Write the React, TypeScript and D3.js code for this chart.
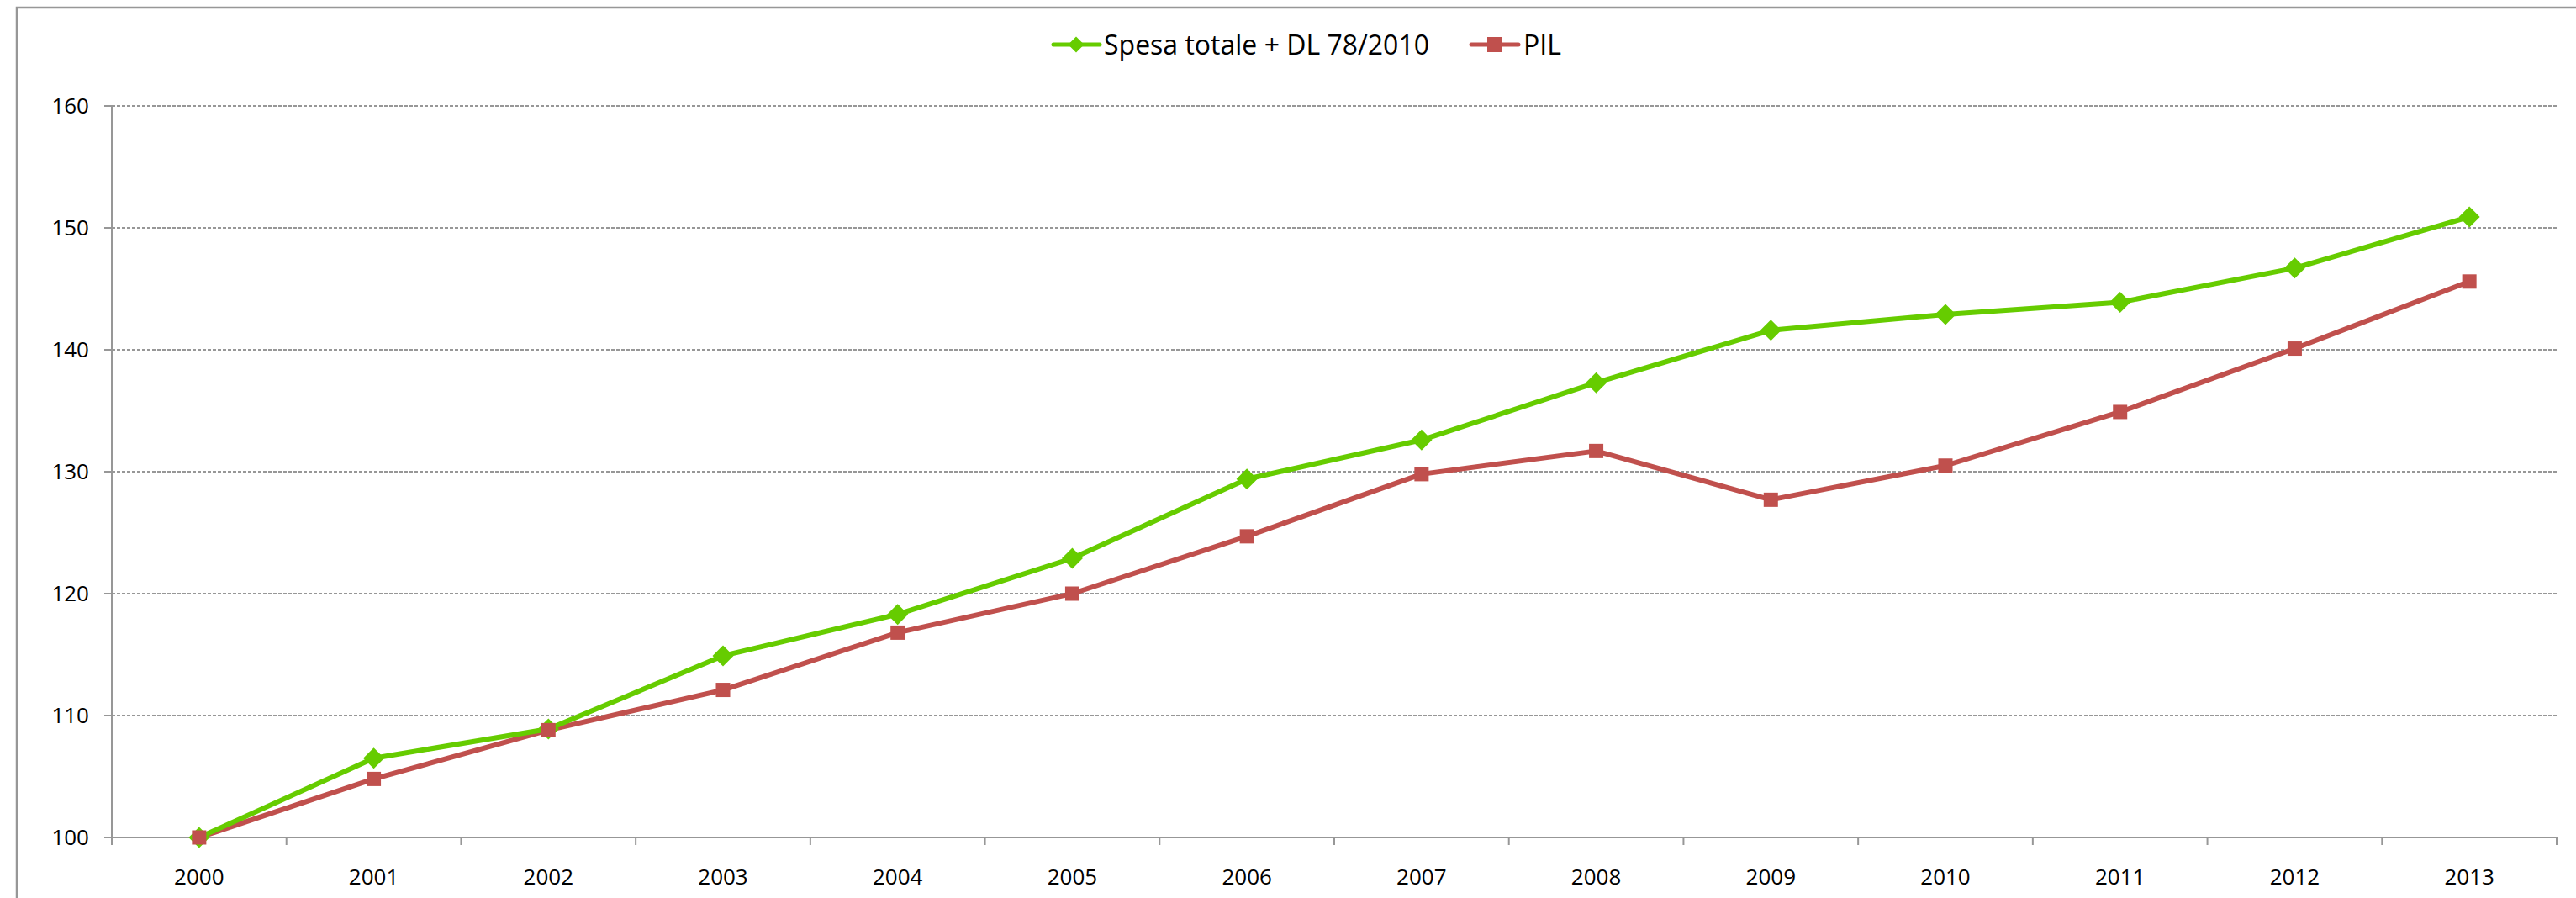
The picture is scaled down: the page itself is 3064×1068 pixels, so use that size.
import React from 'react';
import * as d3 from 'd3';

const years = ['2000', '2001', '2002', '2003', '2004', '2005', '2006', '2007', '2008', '2009', '2010', '2011', '2012', '2013'];
const spesa = [100, 106.5, 108.9, 114.9, 118.3, 122.9, 129.4, 132.6, 137.3, 141.6, 142.9, 143.9, 146.7, 150.9];
const pil = [100, 104.8, 108.8, 112.1, 116.8, 120.0, 124.7, 129.8, 131.7, 127.7, 130.5, 134.9, 140.1, 145.6];
const yTicks = [100, 110, 120, 130, 140, 150, 160];
const seriesNames = ['Spesa totale + DL 78/2010', 'PIL'];

const green = '#66CC00';
const red = '#C0504D';
const axisColor = '#979797';
const font = '"Open Sans", Calibri, sans-serif';

function Diamond({cx, cy, size, fill}: {cx: number, cy: number, size: number, fill: string}) {
    const h = size / 2;
    return <path d={`M${cx},${cy - h}L${cx + h},${cy}L${cx},${cy + h}L${cx - h},${cy}Z`} fill={fill} />;
}

function Square({cx, cy, size, fill}: {cx: number, cy: number, size: number, fill: string}) {
    return <rect x={cx - size / 2} y={cy - size / 2} width={size} height={size} fill={fill} />;
}

export default function App() {
    const width = 3064, height = 1068;
    const left = 133, right = 3041, top = 126, bottom = 996;

    const x = d3.scaleBand().domain(years).range([left, right]);
    const cx = (v: string) => (x(v) as number) + x.bandwidth() / 2;
    const y = d3.scaleLinear().domain([100, 160]).range([bottom, top]);

    const line = d3.line<number>()
        .x((d, i) => cx(years[i]))
        .y((d) => y(d));

    const boundaries = d3.range(years.length + 1).map((i) => left + i * x.step());

    return (
        <div style={{position: 'absolute', left: 0, top: 0}}>
            <svg width={width} height={height} xmlns="http://www.w3.org/2000/svg" style={{display: 'block'}}>
                <rect x={0} y={0} width={width} height={height} fill="#fff" />
                {/* chart frame, cropped on right and bottom */}
                <path d={`M20,${height}L20,9L${width},9`} fill="none" stroke={axisColor} strokeWidth={2.5} />

                {/* gridlines */}
                {yTicks.filter((t) => t !== 100).map((t) =>
                    <line key={`g${t}`} x1={left} x2={right} y1={y(t)} y2={y(t)} stroke={axisColor} strokeWidth={2} strokeDasharray="4,2" />
                )}

                {/* y axis */}
                <line x1={left} x2={left} y1={top} y2={bottom} stroke={axisColor} strokeWidth={2} />
                {yTicks.map((t) =>
                    <g key={`yt${t}`}>
                        <line x1={left - 9} x2={left} y1={y(t)} y2={y(t)} stroke={axisColor} strokeWidth={2} />
                        <text x={106} y={y(t) + 9} textAnchor="end" fontFamily={font} fontSize={26} fill="#000">{t}</text>
                    </g>
                )}

                {/* x axis */}
                <line x1={left} x2={right} y1={bottom} y2={bottom} stroke={axisColor} strokeWidth={2} />
                {boundaries.map((b, i) =>
                    <line key={`xt${i}`} x1={b} x2={b} y1={bottom} y2={bottom + 9} stroke={axisColor} strokeWidth={2} />
                )}
                {years.map((yr) =>
                    <text key={`xl${yr}`} x={cx(yr)} y={1052} textAnchor="middle" fontFamily={font} fontSize={26} fill="#000">{yr}</text>
                )}

                {/* series */}
                <path d={line(pil) as string} fill="none" stroke={red} strokeWidth={6} strokeLinejoin="round" />
                <path d={line(spesa) as string} fill="none" stroke={green} strokeWidth={6} strokeLinejoin="round" />
                {spesa.map((v, i) => <Diamond key={`d${i}`} cx={cx(years[i])} cy={y(v)} size={25} fill={green} />)}
                {pil.map((v, i) => <Square key={`s${i}`} cx={cx(years[i])} cy={y(v)} size={17} fill={red} />)}

                {/* legend */}
                <line x1={1253} x2={1308} y1={53} y2={53} stroke={green} strokeWidth={5} strokeLinecap="round" />
                <Diamond cx={1280} cy={53} size={19} fill={green} />
                <text x={1313} y={65} fontFamily={font} fontSize={32} fill="#000">{seriesNames[0]}</text>
                <line x1={1750} x2={1806} y1={53} y2={53} stroke={red} strokeWidth={5} strokeLinecap="round" />
                <Square cx={1778} cy={53} size={18} fill={red} />
                <text x={1812} y={65} fontFamily={font} fontSize={32} fill="#000">{seriesNames[1]}</text>
            </svg>
        </div>
    );
}
